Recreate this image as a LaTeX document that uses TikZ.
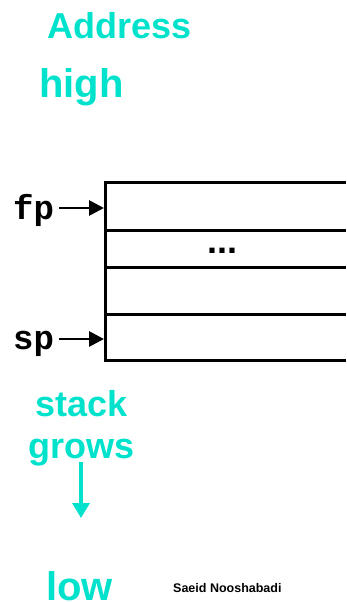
\documentclass[tikz,border=0pt]{standalone}
\usepackage{fontspec}
\setmainfont{Liberation Sans}
\newfontfamily\monofnt{Liberation Mono}
\usetikzlibrary{arrows.meta}
\definecolor{cy}{RGB}{0,226,204}
\begin{document}
\begin{tikzpicture}[x=1pt,y=-1pt,
  lbl/.style={inner sep=0pt, anchor=base west, text=cy, font=\fontsize{36}{36}\selectfont\bfseries},
  reg/.style={inner sep=0pt, anchor=base west, font=\fontsize{34}{34}\selectfont\monofnt\bfseries},
  ptr/.style={line width=2.8pt, -{Triangle[length=15pt,width=15pt]}},
  growarrow/.style={cy, line width=3.4pt, -{Triangle[length=15pt,width=17pt]}},
  boxline/.style={line width=3pt}]
\useasboundingbox (0,0) rectangle (346,602);
% titles
\node[lbl] (addr) at (47,38) {Address};
\node[lbl, font=\fontsize{40}{40}\selectfont\bfseries] (high) at (39,97) {high};
% stack box (open on the right)
\coordinate (tl) at (105,182.7);
\coordinate (bl) at (105,360.7);
\draw[boxline] (346,182.7) -- (tl) -- (bl) -- (346,360.7);
\draw[boxline] (105,230) -- (346,230);
\draw[boxline] (105,267.7) -- (346,267.7);
\draw[boxline] (105,314.3) -- (346,314.3);
\node[inner sep=0pt, anchor=base, font=\fontsize{36}{36}\selectfont\bfseries] (dots) at (222.4,253.3) {...};
% pointers
\node[reg] (fp) at (13,219) {fp};
\node[reg] (sp) at (13,349) {sp};
\coordinate (fpin) at (104,208);
\coordinate (spin) at (104,339);
\coordinate (fpout) at (59,208);
\coordinate (spout) at (59,339);
\draw[ptr] (fpout) -- (fpin);
\draw[ptr] (spout) -- (spin);
% stack grows
\node[lbl, anchor=base] (stack) at (82,416) {stack};
\node[lbl, anchor=base] (grows) at (81.5,458) {grows};
\coordinate (gstart) at (81,462);
\coordinate (gend) at (81,518);
\draw[growarrow] (gstart) -- (gend);
\node[lbl, font=\fontsize{40}{40}\selectfont\bfseries] (low) at (46,600) {low};
\node[inner sep=0pt, anchor=base west, font=\fontsize{12.5}{12.5}\selectfont\bfseries] (author) at (173,592) {Saeid Nooshabadi};
\end{tikzpicture}
\end{document}
